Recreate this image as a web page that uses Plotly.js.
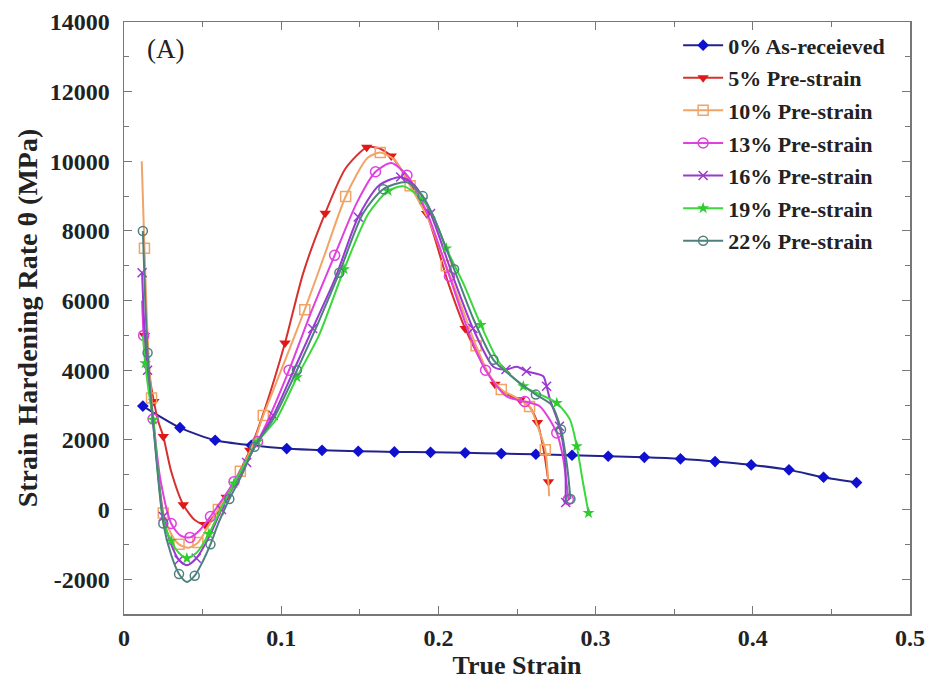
<!DOCTYPE html>
<html>
<head>
<meta charset="utf-8">
<script src="https://cdn.plot.ly/plotly-3.0.1.min.js"></script>
<style>html,body{margin:0;padding:0;background:#fff;}#chart{width:929px;height:688px;}</style>
</head>
<body>
<div id="chart"></div>
<script>
// Series names
const seriesNames = ["0% As-receieved","5% Pre-strain","10% Pre-strain","13% Pre-strain","16% Pre-strain","19% Pre-strain","22% Pre-strain"];

// Axis tick labels
const yTickVals = [-2000,0,2000,4000,6000,8000,10000,12000,14000];
const yTickLabels = ["-2000","0","2000","4000","6000","8000","10000","12000","14000"];
const xTickVals = [0,0.1,0.2,0.3,0.4,0.5];
const xTickLabels = ["0","0.1","0.2","0.3","0.4","0.5"];

// 0% As-received
const x0 = [0.012,0.0356,0.058,0.081,0.1035,0.126,0.149,0.172,0.195,0.217,0.240,0.262,0.285,0.308,0.331,0.354,0.376,0.399,0.423,0.445,0.466];
const y0 = [2970,2350,1990,1845,1750,1700,1673,1655,1644,1627,1607,1587,1558,1530,1500,1455,1377,1282,1139,927,775];

// 5% pre-strain
const x5 = [0.013,0.016,0.019,0.022,0.025,0.03,0.0377,0.045,0.0515,0.058,0.065,0.072,0.08,0.0897,0.1024,0.114,0.128,0.141,0.1544,0.162,0.17,0.18,0.1925,0.2063,0.217,0.228,0.236,0.244,0.252,0.258,0.263,0.267,0.27];
const y5 = [5000,3900,3100,2500,2100,1100,140,-300,-430,-150,350,950,1700,2900,4780,6790,8510,9800,10400,10380,10150,9500,8500,6500,5200,4200,3600,3300,3150,2950,2500,1700,800];

// 10% pre-strain
const x10 = [0.0113,0.013,0.015,0.0175,0.02,0.025,0.03,0.035,0.041,0.047,0.054,0.06,0.066,0.074,0.082,0.0886,0.1,0.115,0.128,0.141,0.155,0.163,0.172,0.182,0.194,0.205,0.215,0.224,0.232,0.24,0.25,0.258,0.2646,0.268,0.2705];
const y10 = [10000,7500,5000,3200,1900,-100,-700,-1000,-1100,-950,-450,0,450,1100,1850,2700,4000,5740,7365,8990,10100,10250,10050,9300,8300,7000,5800,4700,3900,3450,3200,2960,2200,1720,380];

// 13% pre-strain
const x13 = [0.0115,0.0125,0.015,0.0185,0.023,0.03,0.036,0.042,0.048,0.055,0.062,0.07,0.078,0.085,0.092,0.105,0.118,0.134,0.148,0.16,0.17,0.18,0.193,0.207,0.22,0.23,0.2434,0.255,0.2646,0.2753,0.2795,0.2827];
const y13 = [6000,5000,3800,2600,900,-400,-750,-800,-600,-200,250,800,1400,1950,2600,4000,5550,7300,8800,9700,9950,9600,8500,6700,5000,4000,3250,3100,2960,2200,1435,290];

// 16% pre-strain
const x16 = [0.0115,0.013,0.015,0.0185,0.025,0.03,0.035,0.04,0.046,0.054,0.062,0.07,0.078,0.085,0.095,0.108,0.12,0.134,0.149,0.162,0.176,0.185,0.195,0.21,0.222,0.235,0.243,0.25,0.256,0.2667,0.2688,0.271,0.277,0.2805,0.281];
const y16 = [6800,5200,4000,2500,-200,-1000,-1450,-1600,-1400,-800,0,700,1350,1950,2700,4000,5200,6600,8400,9300,9550,9300,8500,6600,5200,4100,4020,4100,3970,3825,3540,3160,2390,1435,200];

// 19% pre-strain
const x19 = [0.012,0.0135,0.016,0.0186,0.025,0.03,0.035,0.04,0.046,0.054,0.062,0.07,0.078,0.085,0.097,0.11,0.124,0.14,0.1555,0.168,0.178,0.19,0.196,0.205,0.2158,0.227,0.239,0.254,0.265,0.2753,0.2837,0.288,0.292,0.2955];
const y19 = [5000,4200,3300,2580,-300,-900,-1250,-1400,-1250,-700,50,750,1400,1950,2600,3800,5000,6900,8500,9150,9280,8900,8500,7500,6500,5300,4200,3540,3300,3060,2580,1820,770,-100];

// 22% pre-strain
const x22 = [0.012,0.0135,0.015,0.0185,0.025,0.03,0.035,0.04,0.045,0.05,0.055,0.06,0.067,0.075,0.083,0.095,0.11,0.123,0.137,0.152,0.165,0.18,0.19,0.197,0.21,0.222,0.235,0.25,0.262,0.272,0.278,0.282,0.284];
const y22 = [8000,6000,4500,2500,-400,-1300,-1850,-2080,-1900,-1500,-1000,-400,300,1000,1800,2600,4000,5300,6800,8500,9200,9400,9000,8400,6900,5500,4300,3700,3300,3000,2300,1200,300];

const xs = [x0,x5,x10,x13,x16,x19,x22];
const ys = [y0,y5,y10,y13,y16,y19,y22];
const lineColors = ['#22228c','#d8302c','#f2a466','#e040e0','#9a38d0','#3ad83a','#4f8080'];
const markerColors = ['#1010d0','#e01818','#f2a466','#e040e0','#9a38d0','#2ecc2e','#4f8080'];
const symbols = ['diamond','triangle-down','square-open','circle-open','x-thin-open','star','circle-open'];
const sizes = [9,10,10,10,9,9,9];

const traces = seriesNames.map((name,i)=>({
  type:'scatter', mode:'lines+markers', name:name,
  x: xs[i], y: ys[i],
  legendgroup: 'g'+i,
  line:{color:lineColors[i], width:2, shape:'spline', smoothing:0.7},
  marker:{symbol:symbols[i], color:markerColors[i], size:sizes[i],
          line:{color:markerColors[i], width: (i===0||i===1||i===5)?0:1.5},
          maxdisplayed: i===0 ? 0 : 18}
}));

const serif = 'Liberation Serif, Times New Roman, serif';
const tickFont = {family:serif, size:24, color:'#222', weight:'bold'};
const layout = {
  width:929, height:688,
  margin:{l:124, r:19, t:22, b:74},
  paper_bgcolor:'#fff', plot_bgcolor:'#fff',
  showlegend:true,
  legend:{x:0.705, y:0.996, xanchor:'left', yanchor:'top', bgcolor:'rgba(0,0,0,0)',
          font:{family:serif, size:22, color:'#222', weight:'bold'},
          tracegroupgap:1, itemwidth:40},
  xaxis:{range:[0,0.5], tickmode:'array', tickvals:xTickVals, ticktext:xTickLabels,
         showgrid:false, zeroline:false,
         showline:true, mirror:'ticks', linecolor:'#777', linewidth:1.5,
         ticks:'inside', ticklen:8, tickcolor:'#777', tickwidth:1,
         minor:{dtick:0.05, tick0:0, ticks:'inside', ticklen:5, tickcolor:'#777'},
         tickfont:tickFont, ticklabelstandoff:2,
         title:{text:'True Strain', font:{family:serif, size:26, color:'#222', weight:'bold'}, standoff:2}},
  yaxis:{range:[-3000,14000], tickmode:'array', tickvals:yTickVals, ticktext:yTickLabels,
         showgrid:false, zeroline:false,
         showline:true, mirror:'ticks', linecolor:'#777', linewidth:1.5,
         ticks:'inside', ticklen:8, tickcolor:'#777', tickwidth:1,
         minor:{dtick:1000, tick0:0, ticks:'inside', ticklen:5, tickcolor:'#777'},
         tickfont:tickFont, ticklabelstandoff:8,
         title:{text:'Strain Hardening Rate θ (MPa)', font:{family:serif, size:28, color:'#222', weight:'bold'}, standoff:4}},
  annotations:[{xref:'paper', yref:'paper', x:0.027, y:0.955, xanchor:'left', yanchor:'middle',
                text:'(A)', showarrow:false,
                font:{family:serif, size:27, color:'#222'}}]
};

Plotly.newPlot('chart', traces, layout, {displayModeBar:false, staticPlot:true});
</script>
</body>
</html>
